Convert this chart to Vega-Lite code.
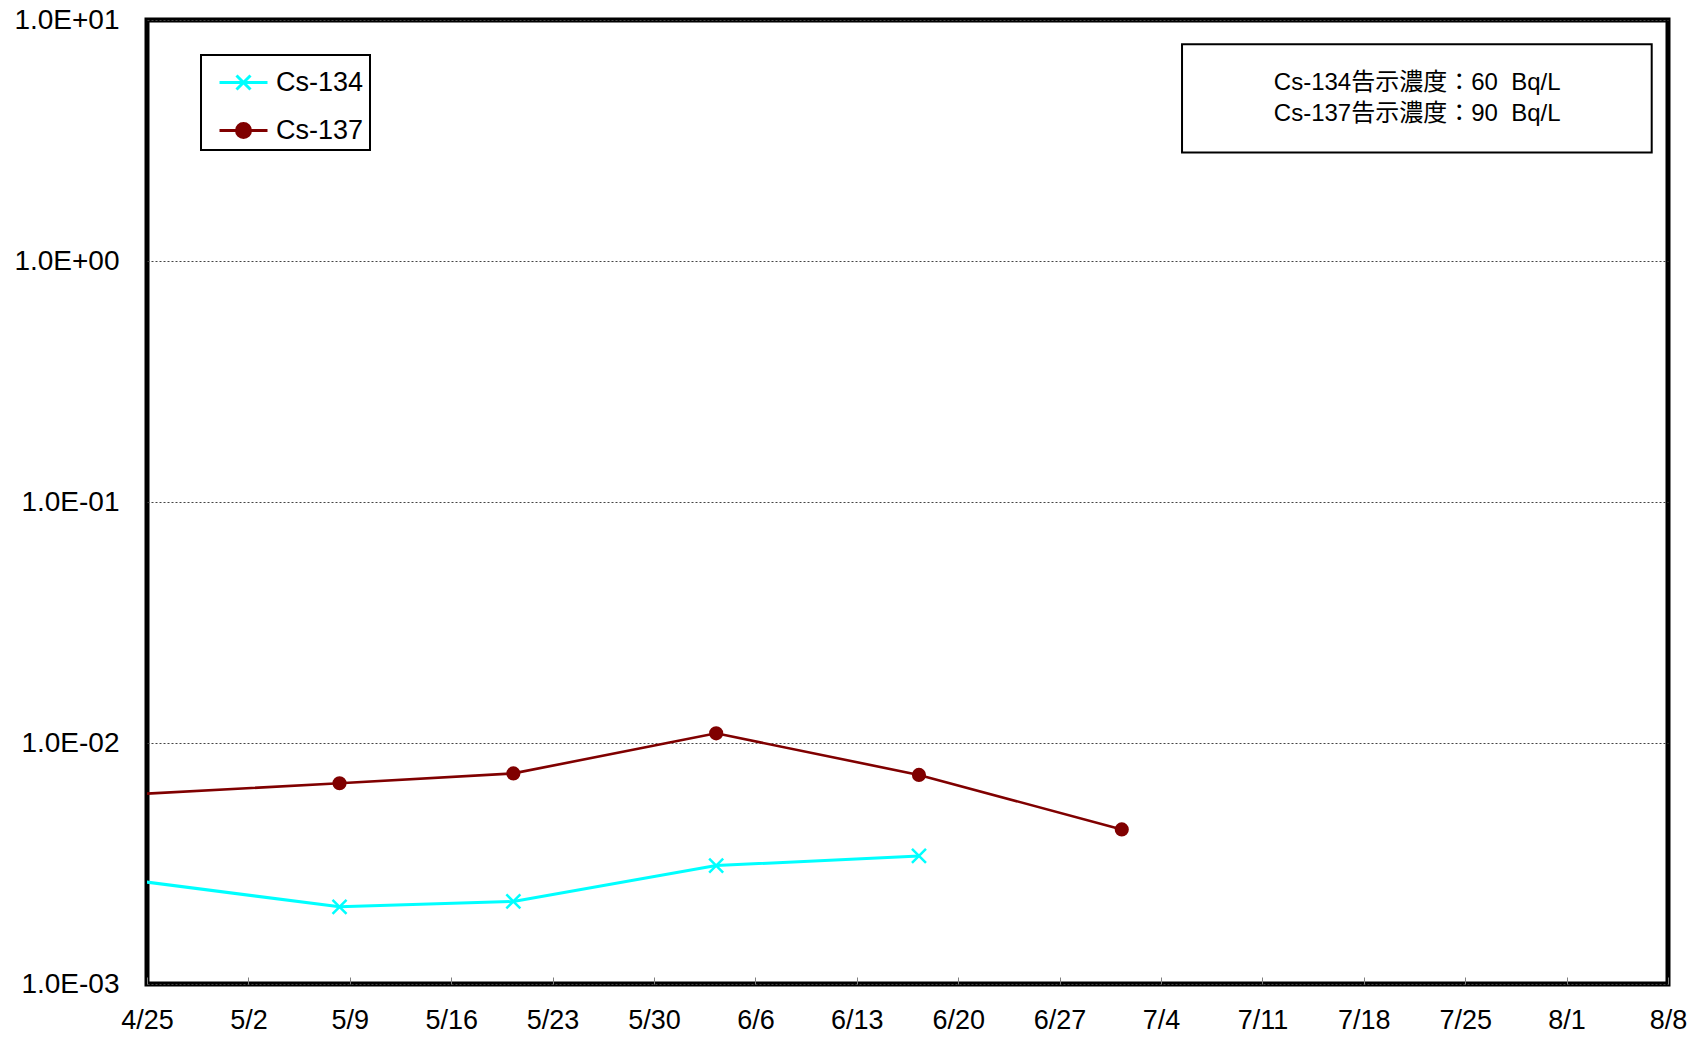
{
  "$schema": "https://vega.github.io/schema/vega-lite/v6.json",
  "width": 1521,
  "height": 964,
  "autosize": {"type": "none"},
  "padding": {"left": 147, "top": 20, "right": 28, "bottom": 54},
  "background": "white",
  "config": {
    "font": "Liberation Sans",
    "view": {"stroke": "black", "strokeWidth": 5},
    "legend": {"strokeWidth": 2}
  },
  "datasets": {
    "obs": [
      {"series": "Cs-137", "date": "2011-04-24T07:00:00", "value": 0.00613},
      {"series": "Cs-137", "date": "2011-05-08T07:00:00", "value": 0.00681},
      {"series": "Cs-137", "date": "2011-05-20T07:00:00", "value": 0.00748},
      {"series": "Cs-137", "date": "2011-06-03T07:00:00", "value": 0.01097},
      {"series": "Cs-137", "date": "2011-06-17T07:00:00", "value": 0.00737},
      {"series": "Cs-137", "date": "2011-07-01T07:00:00", "value": 0.00438},
      {"series": "Cs-134", "date": "2011-04-24T07:00:00", "value": 0.00268},
      {"series": "Cs-134", "date": "2011-05-08T07:00:00", "value": 0.00209},
      {"series": "Cs-134", "date": "2011-05-20T07:00:00", "value": 0.00220},
      {"series": "Cs-134", "date": "2011-06-03T07:00:00", "value": 0.00310},
      {"series": "Cs-134", "date": "2011-06-17T07:00:00", "value": 0.00340}
    ],
    "note": [
      {"date": "2011-07-05T10:50:00", "date2": "2011-08-06T21:00:00", "value": 7.94, "value2": 2.82}
    ],
    "noteText": [
      {"date": "2011-07-21T16:30:00", "value": 5.46, "label": "Cs-134告示濃度：60\u00a0\u00a0Bq/L\nCs-137告示濃度：90\u00a0\u00a0Bq/L"}
    ]
  },
  "encoding": {
    "x": {
      "field": "date",
      "type": "temporal",
      "scale": {
        "domain": [{"year": 2011, "month": 4, "date": 25}, {"year": 2011, "month": 8, "date": 8}],
        "nice": false
      },
      "axis": {
        "title": null,
        "values": [
          {"year": 2011, "month": 4, "date": 25},
          {"year": 2011, "month": 5, "date": 2},
          {"year": 2011, "month": 5, "date": 9},
          {"year": 2011, "month": 5, "date": 16},
          {"year": 2011, "month": 5, "date": 23},
          {"year": 2011, "month": 5, "date": 30},
          {"year": 2011, "month": 6, "date": 6},
          {"year": 2011, "month": 6, "date": 13},
          {"year": 2011, "month": 6, "date": 20},
          {"year": 2011, "month": 6, "date": 27},
          {"year": 2011, "month": 7, "date": 4},
          {"year": 2011, "month": 7, "date": 11},
          {"year": 2011, "month": 7, "date": 18},
          {"year": 2011, "month": 7, "date": 25},
          {"year": 2011, "month": 8, "date": 1},
          {"year": 2011, "month": 8, "date": 8}
        ],
        "format": "%-m/%-d",
        "labelFontSize": 27,
        "labelColor": "black",
        "domain": false,
        "grid": false,
        "ticks": true,
        "tickSize": -7,
        "tickColor": "#808080",
        "tickWidth": 1,
        "labelPadding": 30,
        "labelFlush": false,
        "labelOverlap": false
      }
    },
    "y": {
      "field": "value",
      "type": "quantitative",
      "scale": {"type": "log", "domain": [0.001, 10], "nice": false},
      "axis": {
        "title": null,
        "values": [0.001, 0.01, 0.1, 1, 10],
        "labelExpr": "'1.0E' + (datum.value >= 1 ? '+' : '-') + '0' + abs(round(log(datum.value) / LN10))",
        "grid": true,
        "gridColor": "#444444",
        "gridDash": [2, 2],
        "gridWidth": 1,
        "ticks": false,
        "domain": false,
        "labelFontSize": 28,
        "labelColor": "black",
        "labelPadding": 28,
        "labelFlush": false,
        "labelOverlap": false
      }
    }
  },
  "layer": [
    {
      "data": {"name": "note"},
      "mark": {"type": "rect", "fill": "white", "stroke": "black", "strokeWidth": 2},
      "encoding": {
        "x2": {"field": "date2"},
        "y2": {"field": "value2"}
      }
    },
    {
      "data": {"name": "noteText"},
      "mark": {
        "type": "text",
        "align": "center",
        "baseline": "middle",
        "fontSize": 24,
        "lineHeight": 31,
        "lineBreak": "\n",
        "font": "Liberation Sans, Noto Sans CJK JP",
        "color": "black"
      },
      "encoding": {"text": {"field": "label"}}
    },
    {
      "data": {"name": "obs"},
      "transform": [{"filter": "datum.series === 'Cs-134'"}],
      "mark": {"type": "line", "color": "#00FFFF", "strokeWidth": 3, "clip": true}
    },
    {
      "data": {"name": "obs"},
      "transform": [{"filter": "datum.series === 'Cs-137'"}],
      "mark": {"type": "line", "color": "#800000", "strokeWidth": 2.6, "clip": true}
    },
    {
      "data": {"name": "obs"},
      "transform": [{"filter": "datum.series === 'Cs-134'"}],
      "mark": {"type": "point", "shape": "M-1,-1L1,1M-1,1L1,-1", "size": 196, "stroke": "#00FFFF", "strokeWidth": 2.5, "filled": false, "opacity": 1, "clip": true}
    },
    {
      "data": {"name": "obs"},
      "transform": [{"filter": "datum.series === 'Cs-137'"}],
      "mark": {"type": "point", "shape": "circle", "size": 200, "fill": "#800000", "filled": true, "opacity": 1, "clip": true}
    },
    {
      "data": {"name": "obs"},
      "mark": {"type": "point", "opacity": 0, "clip": true},
      "encoding": {
        "shape": {
          "field": "series",
          "type": "nominal",
          "scale": {
            "domain": ["Cs-134", "Cs-137"],
            "range": [
              "M-1.2,0H1.2M-0.35,-0.35L0.35,0.35M-0.35,0.35L0.35,-0.35",
              "M-1.2,0H1.2M0.35,0A0.35,0.35,0,1,1,-0.35,0A0.35,0.35,0,1,1,0.35,0Z"
            ]
          },
          "legend": {
            "title": null,
            "orient": "none",
            "legendX": 54,
            "legendY": 35,
            "padding": 6,
            "symbolOffset": 15,
            "labelOffset": 11,
            "rowPadding": 13,
            "symbolSize": 1600,
            "symbolStrokeWidth": 3,
            "symbolOpacity": 1,
            "labelFontSize": 27,
            "labelColor": "black",
            "labelExpr": "datum.label + '\u00a0'",
            "strokeColor": "black",
            "fillColor": "white"
          }
        },
        "stroke": {
          "field": "series",
          "type": "nominal",
          "scale": {"domain": ["Cs-134", "Cs-137"], "range": ["#00FFFF", "#800000"]},
          "legend": {
            "title": null,
            "orient": "none",
            "legendX": 54,
            "legendY": 35,
            "padding": 6,
            "symbolOffset": 15,
            "labelOffset": 11,
            "rowPadding": 13,
            "symbolSize": 1600,
            "symbolStrokeWidth": 3,
            "symbolOpacity": 1,
            "labelFontSize": 27,
            "labelColor": "black",
            "labelExpr": "datum.label + '\u00a0'",
            "strokeColor": "black",
            "fillColor": "white"
          }
        },
        "fill": {
          "field": "series",
          "type": "nominal",
          "scale": {"domain": ["Cs-134", "Cs-137"], "range": ["transparent", "#800000"]},
          "legend": {
            "title": null,
            "orient": "none",
            "legendX": 54,
            "legendY": 35,
            "padding": 6,
            "symbolOffset": 15,
            "labelOffset": 11,
            "rowPadding": 13,
            "symbolSize": 1600,
            "symbolStrokeWidth": 3,
            "symbolOpacity": 1,
            "labelFontSize": 27,
            "labelColor": "black",
            "labelExpr": "datum.label + '\u00a0'",
            "strokeColor": "black",
            "fillColor": "white"
          }
        }
      }
    }
  ]
}
